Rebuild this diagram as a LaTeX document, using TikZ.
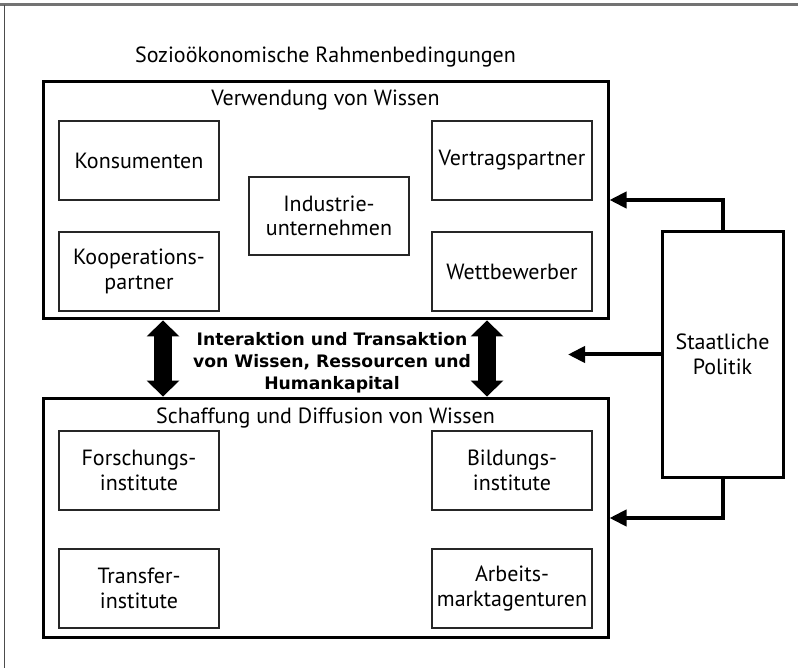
\documentclass[tikz,border=0pt]{standalone}
\usepackage{fontspec}
\setmainfont{PT Sans}
\newfontfamily\heavyfont{DejaVu Sans}
\usetikzlibrary{arrows.meta}
\begin{document}
\begin{tikzpicture}[x=1pt,y=-1pt,
  every node/.style={inner sep=0pt, align=center, font=\fontsize{22}{24.5}\selectfont},
  bigbox/.style={draw, line width=3pt},
  subbox/.style={draw=black!85, line width=1.3pt, minimum width=160pt, minimum height=79pt},
  polbox/.style={draw, line width=3pt, minimum width=121pt, minimum height=245pt},
  polarrow/.style={line width=4pt, -{Triangle[length=17pt,width=16pt]}},
  dblarrow/.style={line width=18pt, {Triangle[length=16pt,width=33pt,line width=0pt]}-{Triangle[length=16pt,width=33pt,line width=0pt]}},
  boldtext/.style={font=\heavyfont\bfseries\fontsize{17.2}{22}\selectfont}]
\useasboundingbox (0,0) rectangle (798,668);
% frame lines
\draw[black!55, line width=3pt] (0,5) -- (798,5);
\draw[black!70, line width=1pt] (4,5) -- (4,668);
% title
\node[anchor=base] (title) at (325.5,63) {Sozioökonomische Rahmenbedingungen};
% upper box
\node[bigbox, minimum width=565pt, minimum height=237pt] (verw) at (325.5,200.5) {};
\node[anchor=base] (verwlabel) at (325.5,106) {Verwendung von Wissen};
\node[subbox] (kons) at (139,160.5) {Konsumenten};
\node[subbox] (vert) at (512,160.5) {Vertragspartner};
\node[subbox] (koop) at (139,271.5) {Kooperations-\\partner};
\node[subbox] (wett) at (512,271.5) {Wettbewerber};
\node[subbox, minimum height=78pt] (indu) at (329,216) {Industrie-\\unternehmen};
% lower box
\node[bigbox, minimum width=565pt, minimum height=239pt] (schaff) at (325.5,517.5) {};
\node[anchor=base] (schafflabel) at (325.5,423) {Schaffung und Diffusion von Wissen};
\node[subbox] (forsch) at (139,470.5) {Forschungs-\\institute};
\node[subbox] (bild) at (512,470.5) {Bildungs-\\institute};
\node[subbox] (trans) at (139,588.5) {Transfer-\\institute};
\node[subbox] (arb) at (512,588.5) {Arbeits-\\marktagenturen};
% middle text
\node[boldtext] (inter) at (332,362.5) {Interaktion und Transaktion\\von Wissen, Ressourcen und\\Humankapital};
% double arrows
\coordinate (xl) at (163,0);
\coordinate (xr) at (487,0);
\draw[dblarrow] (verw.south -| xl) -- (schaff.north -| xl);
\draw[dblarrow] (verw.south -| xr) -- (schaff.north -| xr);
% state policy
\node[polbox] (pol) at (722.5,354.5) {Staatliche\\Politik};
\coordinate (ya) at (0,200);
\coordinate (yb) at (0,518);
\coordinate (xm) at (568,0);
\draw[polarrow] (pol.north) |- (verw.east |- ya);
\draw[polarrow] (pol.west) -- (pol.west -| xm);
\draw[polarrow] (pol.south) |- (schaff.east |- yb);
\end{tikzpicture}
\end{document}
